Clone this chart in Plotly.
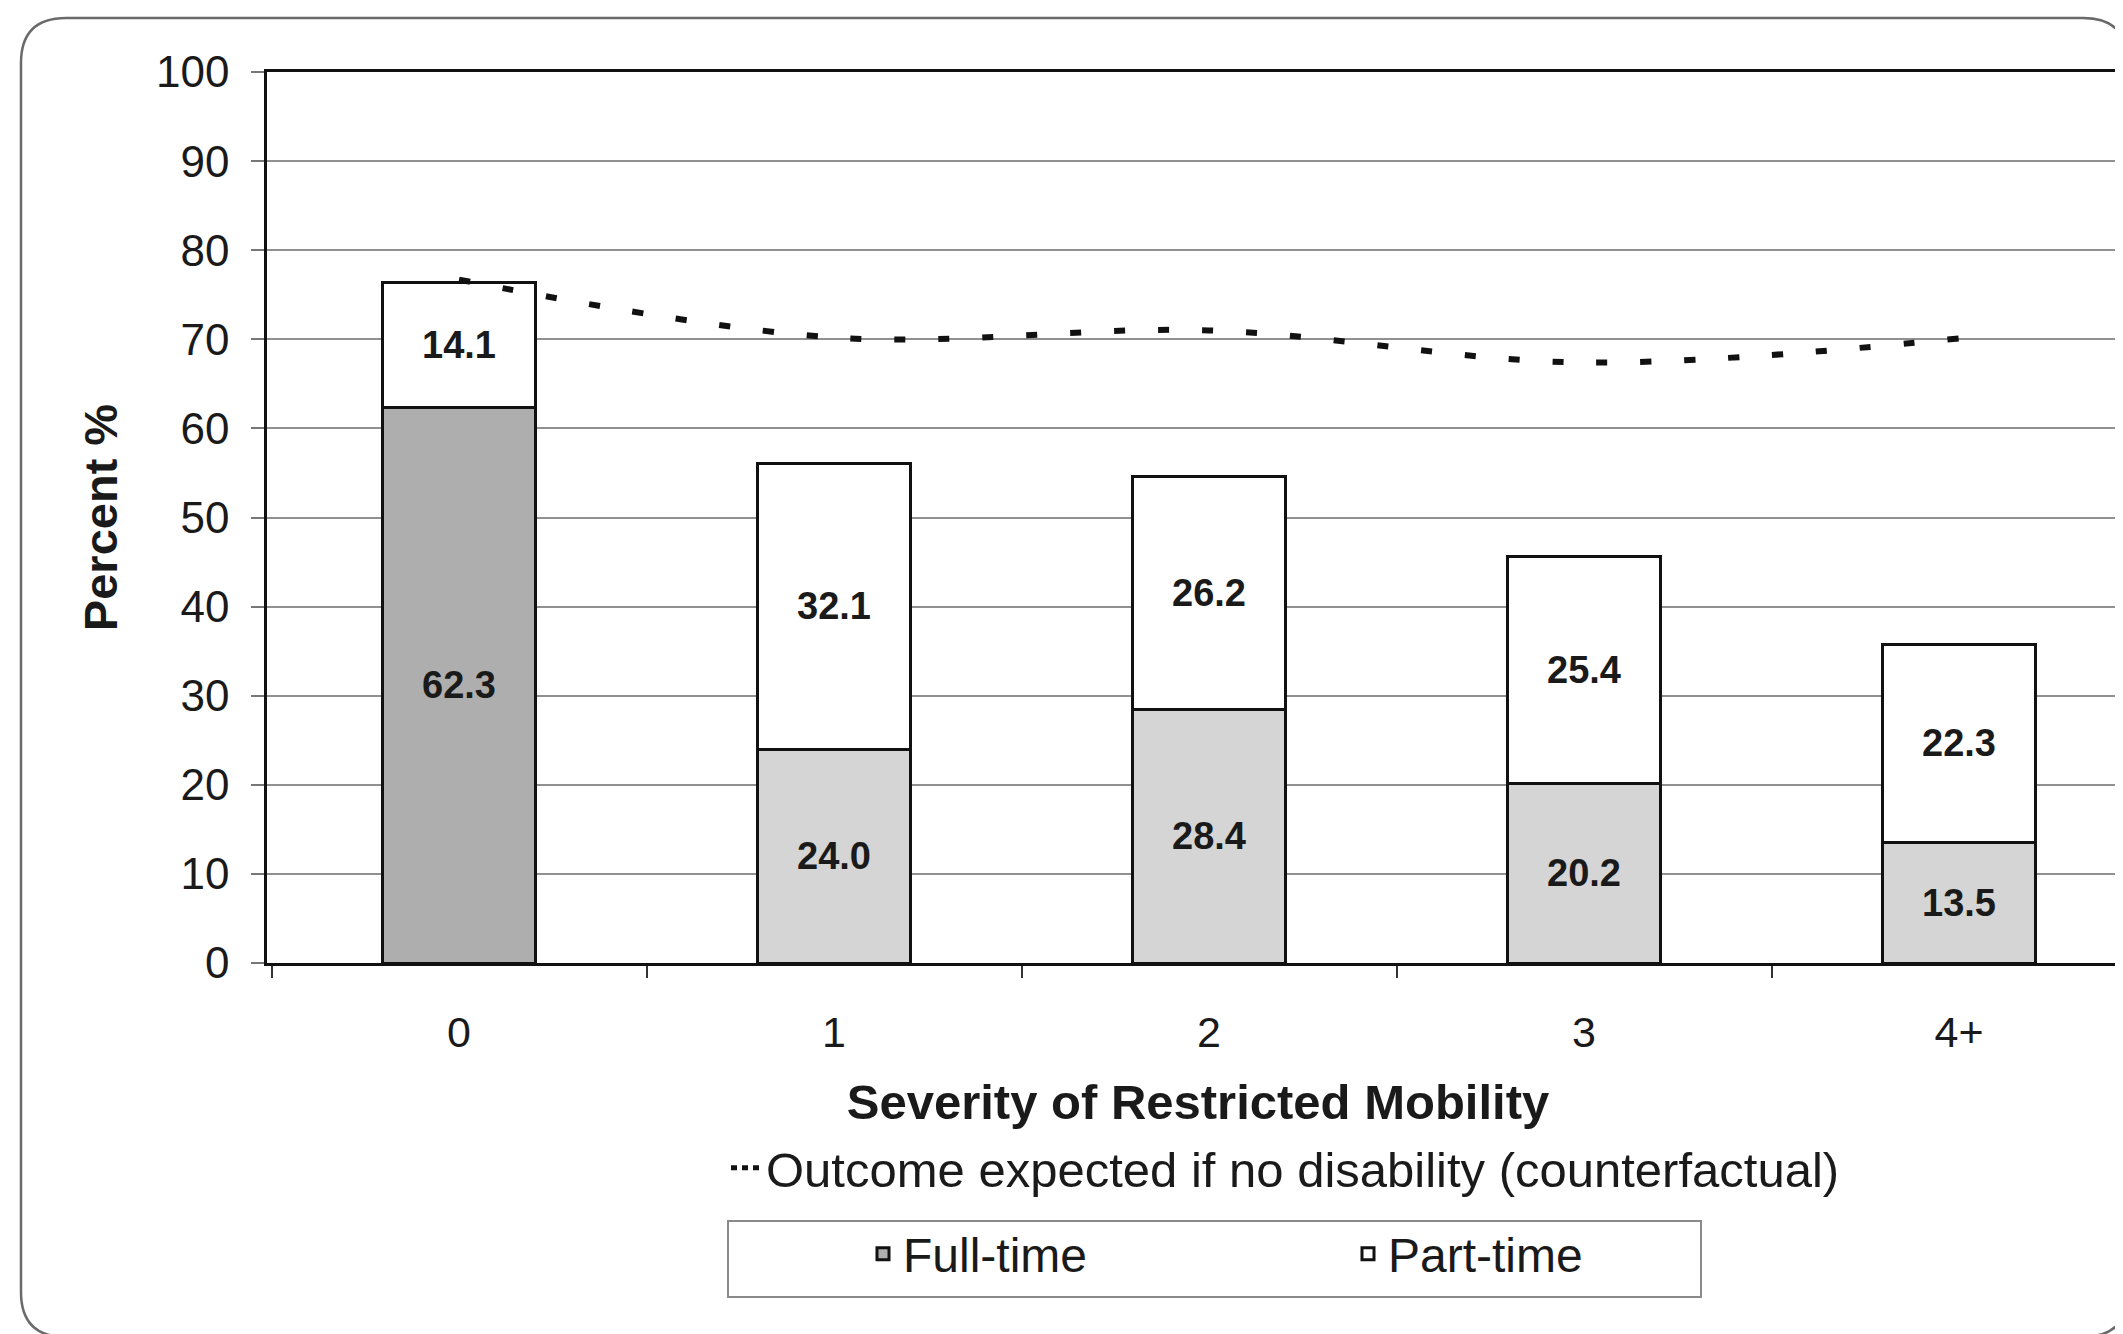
import plotly.graph_objects as go

# ---------------- data ----------------
categories = ["0", "1", "2", "3", "4+"]
full_time = [62.3, 24.0, 28.4, 20.2, 13.5]
part_time = [14.1, 32.1, 26.2, 25.4, 22.3]
counterfactual = [76.7, 70.2, 71.0, 67.4, 70.1]
y_tick_values = [0, 10, 20, 30, 40, 50, 60, 70, 80, 90, 100]

# ---------------- styling ----------------
FONT = "Liberation Sans, Arial, sans-serif"
TXT = "#1a1a1a"
full_colors = ["#aeaeae", "#d5d5d5", "#d5d5d5", "#d5d5d5", "#d5d5d5"]

W, H = 2123, 1334
ML, MR, MT, MB = 259, 2, 64, 379
PW = W - ML - MR
PH = H - MT - MB
BAND = 375.0  # pixels per category
X_START = -0.512


def px_x(p):
    return (p - ML) / PW


def px_y(p):
    return (H - MB - p) / PH


fig = go.Figure()

fig.add_trace(go.Bar(
    x=categories, y=full_time, name="Full-time", legend="legend2",
    marker=dict(color=full_colors, line=dict(color="#111111", width=3)),
    text=[f"{v:.1f}" for v in full_time], textposition="inside",
    insidetextanchor="middle", constraintext="none",
    textfont=dict(family=FONT, size=38, color=TXT, weight="bold"),
    hoverinfo="skip",
))
fig.add_trace(go.Bar(
    x=categories, y=part_time, name="Part-time", legend="legend2",
    marker=dict(color="#ffffff", line=dict(color="#111111", width=3)),
    text=[f"{v:.1f}" for v in part_time], textposition="inside",
    insidetextanchor="middle", constraintext="none",
    textfont=dict(family=FONT, size=38, color=TXT, weight="bold"),
    hoverinfo="skip",
))
fig.add_trace(go.Scatter(
    x=categories, y=counterfactual, mode="lines", showlegend=False,
    line=dict(color="#111111", width=6, dash="11px,33px", shape="spline", smoothing=1.0),
    hoverinfo="skip",
))
# legend entry for the counterfactual line
fig.add_trace(go.Scatter(
    x=[None], y=[None], mode="lines", legend="legend",
    name="Outcome expected if no disability (counterfactual)",
    line=dict(color="#111111", width=5, dash="6px,5px"),
))

# frame of the whole chart (rounded rectangle)
fl, fr, ft, fb, r = 13, 2120, 10, 1329, 45
rx = r / PW
ry = r / PH
X0, X1 = px_x(fl), px_x(fr)
Y0, Y1 = px_y(fb), px_y(ft)
frame_path = (
    f"M {X0+rx},{Y1} L {X1-rx},{Y1} Q {X1},{Y1} {X1},{Y1-ry} "
    f"L {X1},{Y0+ry} Q {X1},{Y0} {X1-rx},{Y0} L {X0+rx},{Y0} "
    f"Q {X0},{Y0} {X0},{Y0+ry} L {X0},{Y1-ry} Q {X0},{Y1} {X0+rx},{Y1} Z"
)

shapes = [
    dict(type="path", xref="paper", yref="paper", path=frame_path,
         line=dict(color="#6a6a6a", width=2.5), layer="below"),
    dict(type="line", xref="paper", yref="paper",
         x0=px_x(fl + r), x1=px_x(fr - r), y0=px_y(fb), y1=px_y(fb),
         line=dict(color="#111111", width=5)),
    # box around the bar legend
    dict(type="rect", xref="paper", yref="paper",
         x0=px_x(720), x1=px_x(1693), y0=px_y(1289), y1=px_y(1213),
         line=dict(color="#8a8a8a", width=2)),
]

fig.update_layout(
    width=W, height=H,
    margin=dict(l=ML, r=MR, t=MT, b=MB, autoexpand=False),
    paper_bgcolor="white", plot_bgcolor="white",
    font=dict(family=FONT, color=TXT),
    barmode="stack", bargap=0.59,
    shapes=shapes,
    xaxis=dict(
        type="category", categoryorder="array", categoryarray=categories,
        range=[X_START, X_START + PW / BAND],
        showline=True, mirror=True, linecolor="#111111", linewidth=2.5,
        ticks="outside", tickson="boundaries", ticklen=12, tickwidth=2, tickcolor="#333333",
        tickfont=dict(family=FONT, size=43, color=TXT),
        ticklabelstandoff=30,
        showgrid=False, automargin=False,
        title=dict(text="<b>Severity of Restricted Mobility</b>", standoff=30,
                   font=dict(family=FONT, size=49, color=TXT)),
    ),
    yaxis=dict(
        range=[0, 100], tickvals=y_tick_values,
        showline=True, linecolor="#111111", linewidth=2.5,
        ticks="outside", ticklen=13, tickwidth=2, tickcolor="#777777",
        tickfont=dict(family=FONT, size=44, color=TXT),
        ticklabelstandoff=13,
        showgrid=True, gridcolor="#909090", gridwidth=2,
        zeroline=False, automargin=False,
        title=dict(text="<b>Percent %</b>", standoff=24,
                   font=dict(family=FONT, size=47, color=TXT)),
    ),
    legend=dict(
        orientation="h", x=px_x(718), y=px_y(1160), xanchor="left", yanchor="middle",
        font=dict(family=FONT, size=49, color=TXT), bgcolor="rgba(0,0,0,0)",
        borderwidth=0,
    ),
    legend2=dict(
        orientation="h", x=px_x(855), y=px_y(1246), xanchor="left", yanchor="middle",
        font=dict(family=FONT, size=48, color=TXT), bgcolor="rgba(0,0,0,0)",
        borderwidth=0, entrywidth=440, entrywidthmode="pixels", traceorder="normal",
    ),
)

fig.write_html("out.html")
